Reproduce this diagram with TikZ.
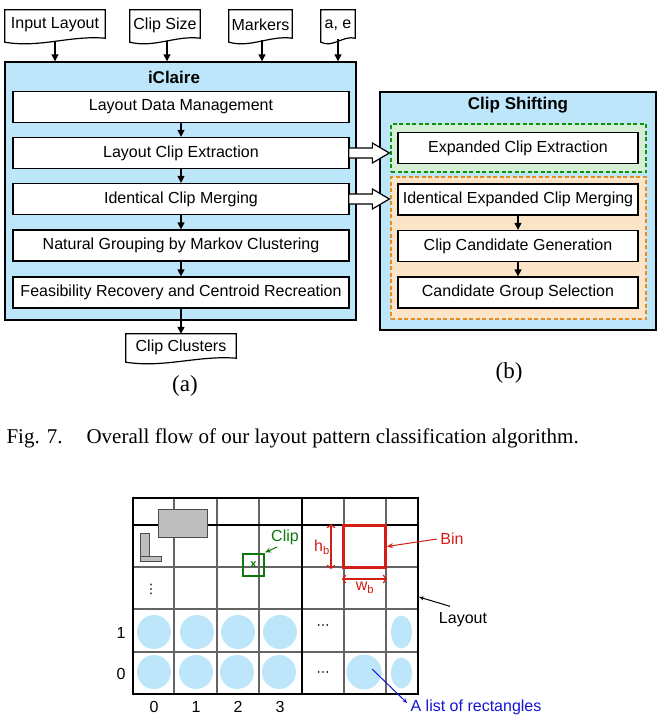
\documentclass[tikz,border=0pt]{standalone}
\usepackage{fontspec}
\setmainfont{Liberation Sans}
\newfontfamily\capfont{Liberation Serif}
\newfontfamily\dejafont{DejaVu Sans}
\usetikzlibrary{arrows.meta,calc}
\definecolor{lblue}{RGB}{190,230,250}
\definecolor{lgreen}{RGB}{214,238,212}
\definecolor{dgreen}{RGB}{10,150,10}
\definecolor{lorange}{RGB}{252,228,200}
\definecolor{dorange}{RGB}{232,140,30}
\definecolor{clipgreen}{RGB}{10,120,10}
\definecolor{binred}{RGB}{210,30,20}
\definecolor{listblue}{RGB}{20,20,210}
\definecolor{gridgray}{RGB}{100,100,100}
\definecolor{shapegray}{RGB}{190,190,190}
\tikzset{
  txt/.style={font=\fontsize{16}{19}\selectfont},
  proc/.style={draw, fill=white, line width=1.3pt, minimum height=31pt, inner sep=0pt, txt},
  container/.style={draw, fill=lblue, line width=1.4pt, inner sep=0pt},
  ttl/.style={font=\bfseries\fontsize{17}{20}\selectfont},
  doc/.style={inner sep=0pt, minimum height=30pt, txt},
  docline/.style={line width=1.2pt},
  arr/.style={-{Triangle[length=7pt,width=7pt]}, line width=1.4pt},
  blockarrow/.style={line width=1.2pt, fill=white},
  gridline/.style={draw=gridgray, line width=1.1pt},
  lbl/.style={-{Stealth[length=6pt,width=5pt]}, line width=1pt},
  dim/.style={{Straight Barb[length=3pt,width=8pt]}-{Straight Barb[length=3pt,width=8pt]}, line width=1.2pt, draw=binred},
  blob/.style={fill=lblue, draw=none},
  serifcap/.style={font=\capfont\fontsize{21}{24}\selectfont},
  subcap/.style={font=\capfont\fontsize{23}{26}\selectfont},
  dots/.style={font=\dejafont\fontsize{13}{15}\selectfont, inner sep=1pt},
}
\begin{document}
\begin{tikzpicture}[x=1pt,y=-1pt]
\useasboundingbox (0,0) rectangle (664,723);

% ---------- (a) iClaire ----------
\node[container, minimum width=351pt, minimum height=258pt] (icl) at (180.5,191) {};
\node[ttl] (iclt) at (174,77) {iClaire};
\node[proc, minimum width=336pt] (ldm) at (181,107) {Layout Data Management};
\node[proc, minimum width=336pt] (lce) at (181,153) {Layout Clip Extraction};
\node[proc, minimum width=336pt] (icm) at (181,199) {Identical Clip Merging};
\node[proc, minimum width=336pt] (ngm) at (181,245.5) {Natural Grouping by Markov Clustering};
\node[proc, minimum width=336pt] (frc) at (181,292.5) {Feasibility Recovery and Centroid Recreation};
\draw[arr] (ldm) -- (lce);
\draw[arr] (lce) -- (icm);
\draw[arr] (icm) -- (ngm);
\draw[arr] (ngm) -- (frc);

% inputs / output documents
\node[doc, minimum width=100pt] (inl) at (55,25) {Input Layout};
\node[doc, minimum width=70pt] (csz) at (165,25) {Clip Size};
\node[doc, minimum width=63pt] (mrk) at (260.5,25) {Markers};
\node[doc, minimum width=34pt] (ae) at (338,25) {a, e};
\node[doc, minimum width=110pt, minimum height=26pt] (clu) at (181,347) {Clip Clusters};
\foreach \n in {inl,csz,mrk,ae,clu}{
  \draw[docline] (\n.north west) -- ($(\n.south west)+(0,2)$)
     .. controls ($(\n.south west)!0.35!(\n.south east)+(0,8)$) and ($(\n.south west)!0.65!(\n.south east)+(0,-5)$)
     .. ($(\n.south east)+(0,-2)$) -- (\n.north east) -- cycle;
}

\draw[arr] ($(inl.south)+(0,2)$) -- (inl.south |- icl.north);
\draw[arr] ($(csz.south)+(2,1)$) -- ($(csz.south |- icl.north)+(2,0)$);
\draw[arr] ($(mrk.south)+(1.5,0)$) -- ($(mrk.south |- icl.north)+(1.5,0)$);
\draw[arr] ($(ae.south)+(0,-1)$) -- (ae.south |- icl.north);
\draw[arr] (frc.south) -- (clu.north);

\node[subcap] (capa) at (185,386) {(a)};

% ---------- (b) Clip Shifting ----------
\node[container, minimum width=276pt, minimum height=238pt] (cs) at (518,211) {};
\node[ttl] (cst) at (518,105) {Clip Shifting};
\node[draw=dgreen, dash pattern=on 4pt off 2.5pt, fill=lgreen, line width=1.3pt, minimum width=255pt, minimum height=48pt, inner sep=0pt] (gbox) at (518.5,148) {};
\node[draw=dorange, dash pattern=on 4pt off 2.5pt, fill=lorange, line width=1.3pt, minimum width=255pt, minimum height=142pt, inner sep=0pt] (obox) at (518.5,248) {};
\node[proc, minimum width=240pt] (ece) at (518,148) {Expanded Clip Extraction};
\node[proc, minimum width=240pt] (iecm) at (518,199.5) {Identical Expanded Clip Merging};
\node[proc, minimum width=240pt] (ccg) at (518,246) {Clip Candidate Generation};
\node[proc, minimum width=240pt] (cgs) at (518,292.5) {Candidate Group Selection};
\draw[arr] (iecm) -- (ccg);
\draw[arr] (ccg) -- (cgs);
\node[subcap] (capb) at (509,373) {(b)};

% block arrows
\foreach \a/\b in {lce/gbox, icm/obox}{
  \draw[blockarrow] let \p1=(\a.east), \p2=(\b.west) in
    (\x1-1pt,\y1+5pt) -- (\x2-18pt,\y1+5pt) -- (\x2-18pt,\y1+10pt) -- (\x2-1pt,\y1)
    -- (\x2-18pt,\y1-10pt) -- (\x2-18pt,\y1-5pt) -- (\x1-1pt,\y1-5pt) -- cycle;
}

% caption
\node[serifcap, anchor=west] (cap) at (3,438) {Fig. 7.\hspace{24pt}Overall flow of our layout pattern classification algorithm.};

% ---------- bottom grid ----------
\foreach \x in {154,197,238,280} \fill[blob] (\x,632) circle[radius=17];
\foreach \x in {154,196,237,279} \fill[blob] (\x,672) circle[radius=17];
\node[blob, circle, minimum size=35pt, inner sep=0pt] (c05) at (364,672) {};
\fill[blob] (401.5,632) ellipse[x radius=10.5, y radius=16.5];
\fill[blob] (401.5,673) ellipse[x radius=10.5, y radius=15.5];

\foreach \x in {174,217,259,344,386} \draw[gridline] (\x,498) -- (\x,694);
\foreach \y in {567,609,652} \draw[gridline] (133,\y) -- (418,\y);
\draw[line width=1.1pt] (302,498) -- (302,694);
\draw[line width=1.1pt] (133,525) -- (418,525);
\draw[line width=1.6pt] (133,498) rectangle (418,694);

% gray shapes
\filldraw[fill=shapegray, draw=gray!60!black, line width=1pt] (158,509) rectangle (207,537);
\filldraw[fill=shapegray, draw=gray!60!black, line width=1pt] (140,533) rectangle (149,557);
\filldraw[fill=shapegray, draw=gray!60!black, line width=1pt] (140,556) rectangle (161,561);

\node[dots] (vd) at (151,589) {⋮};
\node[dots] (hd1) at (323,627) {⋯};
\node[dots] (hd0) at (323,674) {⋯};

% clip
\node[draw=clipgreen, line width=2pt, minimum width=21pt, minimum height=22pt, inner sep=0pt,
      text=clipgreen, font=\bfseries\fontsize{11}{12}\selectfont] (clipsq) at (253.5,564.5) {x};
\node[txt, text=clipgreen] (clip) at (285,537) {Clip};
\draw[lbl, clipgreen] ($(clip.south)+(-8,-1)$) -- (clipsq.north east);

% bin
\node[draw=binred, line width=3pt, minimum size=42pt, inner sep=0pt] (binsq) at (364.5,546.5) {};
\node[txt, text=binred] (bin) at (452,539) {Bin};
\draw[lbl, binred] (bin.west) -- (binsq.east);
\draw[dim] ($(binsq.north west)+(-11,0)$) -- ($(binsq.south west)+(-11,0)$);
\draw[dim] ($(binsq.south west)+(0,10)$) -- ($(binsq.south east)+(0,10)$);
\node[txt, text=binred] (hb) at (322,547) {h\textsubscript{b}};
\node[txt, text=binred] (wb) at (365,588) {w\textsubscript{b}};

% layout label
\coordinate (laypt) at (419,597);
\node[txt] (lay) at (463,620) {Layout};
\draw[lbl, -{Stealth[length=5pt,width=4pt]}] ($(lay.north)+(-13,-3)$) -- (laypt);

% list label
\node[txt, text=listblue] (lst) at (476,707) {A list of rectangles};
\draw[lbl, listblue, -{Stealth[length=5pt,width=4pt]}] ($(c05.center)+(8,-3)$) -- ($(lst.west)+(0,-4)$);

% axis numbers
\node[txt] (r1) at (121,633) {1};
\node[txt] (r0) at (121,674) {0};
\node[txt] (k0) at (154,707) {0};
\node[txt] (k1) at (196,707) {1};
\node[txt] (k2) at (238,707) {2};
\node[txt] (k3) at (280,707) {3};
\end{tikzpicture}
\end{document}
